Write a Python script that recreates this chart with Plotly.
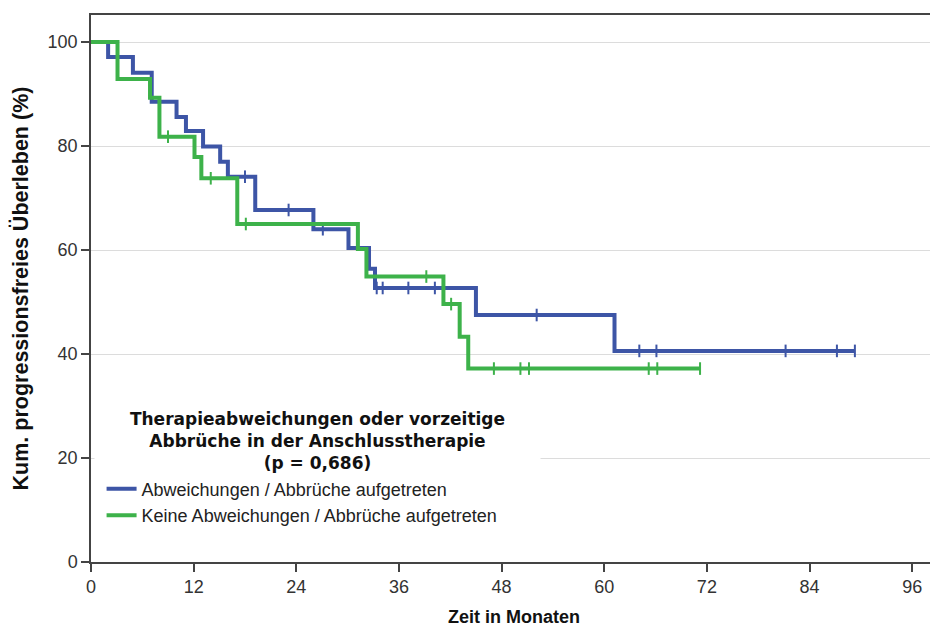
import plotly.graph_objects as go
import bisect

# ---- data ----
blue_name = "Abweichungen / Abbrüche aufgetreten"
blue_event_t = [2.0, 4.9, 7.1, 10.0, 11.1, 13.1, 15.1, 16.0, 19.2, 26.0, 30.1, 32.5, 33.2, 45.0, 61.2]
blue_event_s = [97.1, 94.1, 88.5, 85.6, 82.9, 79.9, 77.0, 74.1, 67.7, 64.0, 60.4, 56.4, 52.7, 47.5, 40.6]
blue_censor_t = [18.0, 23.1, 27.1, 33.4, 34.1, 37.1, 40.2, 52.1, 64.1, 66.1, 81.2, 87.2, 89.3]

green_name = "Keine Abweichungen / Abbrüche aufgetreten"
green_event_t = [3.1, 6.9, 8.0, 12.1, 12.9, 17.1, 31.2, 32.2, 41.2, 43.1, 44.1]
green_event_s = [92.9, 89.3, 81.8, 77.9, 73.8, 65.0, 60.2, 54.9, 49.6, 43.3, 37.2]
green_censor_t = [9.0, 14.0, 18.1, 39.2, 42.1, 47.1, 50.2, 51.2, 65.2, 66.2, 71.2]

x_ticks = [0, 12, 24, 36, 48, 60, 72, 84, 96]
y_ticks = [0, 20, 40, 60, 80, 100]
legend_title = "<b>Therapieabweichungen oder vorzeitige<br>Abbrüche in der Anschlusstherapie<br>(p = 0,686)</b>"

BLUE = "#3d55a6"
GREEN = "#3db24a"
ARIAL = "Liberation Sans, Arial, sans-serif"


def step_curve(ev_t, ev_s, cens_t):
    end = max(ev_t[-1], cens_t[-1])
    xs = [0] + ev_t + [end]
    ys = [100] + ev_s + [ev_s[-1]]
    return xs, ys


def value_at(ev_t, ev_s, t):
    i = bisect.bisect_right(ev_t, t)
    return 100 if i == 0 else ev_s[i - 1]


fig = go.Figure()
for name, et, es, ct, col in [
    (blue_name, blue_event_t, blue_event_s, blue_censor_t, BLUE),
    (green_name, green_event_t, green_event_s, green_censor_t, GREEN),
]:
    xs, ys = step_curve(et, es, ct)
    fig.add_trace(go.Scatter(x=xs, y=ys, mode="lines", name=name,
                             line=dict(color=col, width=4, shape="hv")))
    fig.add_trace(go.Scatter(x=ct, y=[value_at(et, es, t) for t in ct], mode="markers",
                             showlegend=False, hoverinfo="skip",
                             marker=dict(symbol="line-ns", size=9,
                                         line=dict(color=col, width=2))))

fig.update_layout(
    width=930, height=619,
    margin=dict(l=83, r=1, t=7, b=65),
    paper_bgcolor="white", plot_bgcolor="white",
    font=dict(family=ARIAL, color="#222"),
    legend=dict(
        x=0.0125, y=0.167, xanchor="left", yanchor="top",
        bgcolor="white", borderwidth=0,
        font=dict(size=18, color="#222", family=ARIAL),
        tracegroupgap=0, itemwidth=30,
    ),
    annotations=[dict(
        text=legend_title, xref="paper", yref="paper",
        x=0.268, y=0.221, xanchor="center", yanchor="middle",
        showarrow=False, align="center", width=443, bgcolor="white",
        font=dict(size=17, color="#111", family="DejaVu Sans, Verdana, sans-serif"),
    )],
)
fig.update_xaxes(
    range=[0, 98.9], tickvals=x_ticks, ticktext=[str(v) for v in x_ticks],
    ticks="outside", ticklen=8, tickwidth=1.5, tickcolor="#444",
    showline=True, linecolor="#444", linewidth=1.5, mirror=True,
    showgrid=False, zeroline=False, automargin=False,
    tickfont=dict(size=18, family=ARIAL, color="#333"),
    title=dict(text="<b>Zeit in Monaten</b>", standoff=17,
               font=dict(size=18, family=ARIAL, color="#111")),
)
fig.update_yaxes(
    range=[0, 105.2], tickvals=y_ticks,
    ticks="outside", ticklen=8, tickwidth=1.5, tickcolor="#444",
    showline=True, linecolor="#444", linewidth=1.5, mirror=True,
    showgrid=True, gridcolor="#dcdcdc", gridwidth=1, zeroline=False, automargin=False,
    tickfont=dict(size=18, color="#333", family=ARIAL),
    title=dict(text="<b>Kum. progressionsfreies Überleben (%)</b>", standoff=14,
               font=dict(size=21.5, color="#111", family=ARIAL)),
)

fig.write_html("out.html")
